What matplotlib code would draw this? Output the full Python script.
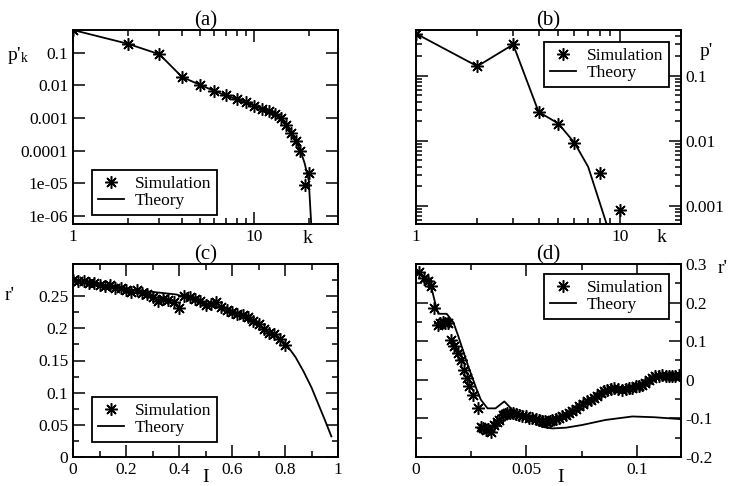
import numpy as np
import matplotlib.pyplot as plt
from matplotlib.ticker import LogLocator, MultipleLocator, NullFormatter

plt.rcParams['font.family'] = ['Liberation Serif', 'DejaVu Serif']
plt.rcParams['mathtext.fontset'] = 'stix'

# ---- data -------------------------------------------------------------
# (a) degree distribution
a_k = [1, 2, 3, 4, 5, 6, 7, 8, 9, 10, 11, 12, 13, 14, 15, 16, 17, 18, 19, 20]
a_sim = [0.5, 0.19, 0.09, 0.018, 0.0105, 0.0068, 0.0049, 0.0038, 0.003,
         0.0024, 0.0019, 0.0016, 0.0013, 0.001, 0.0006, 0.00035, 0.0002,
         0.0001, 9e-6, 2e-5]
a_th_k = [1, 2, 3, 4, 5, 6, 7, 8, 9, 10, 11, 12, 13, 14, 15, 16, 17, 18, 19, 20, 21]
a_th = [0.5, 0.19, 0.09, 0.018, 0.0105, 0.0068, 0.0049, 0.0038, 0.003,
        0.0024, 0.0019, 0.0016, 0.0013, 0.001, 0.0006, 0.00035, 0.0002,
        0.0001, 4e-5, 1.2e-5, 1e-7]

# (b)
b_k = [1, 2, 3, 4, 5, 6, 8, 10]
b_sim = [0.44, 0.139, 0.30, 0.0277, 0.0184, 0.0093, 0.0032, 0.00087]
b_th_k = [1, 2, 3, 4, 5, 6, 7, 8, 9, 10]
b_th = [0.44, 0.139, 0.30, 0.0277, 0.0184, 0.0093, 0.004, 0.0011, 0.00035, 0.0001]

# (c)
c_I = [0.0, 0.02, 0.04, 0.06, 0.08, 0.10, 0.12, 0.14, 0.16, 0.18, 0.20,
       0.22, 0.24, 0.26, 0.28, 0.30, 0.32, 0.34, 0.36, 0.38, 0.40, 0.42,
       0.44, 0.46, 0.48, 0.50, 0.52, 0.54, 0.56, 0.58, 0.60, 0.62, 0.64,
       0.66, 0.68, 0.70, 0.72, 0.74, 0.76, 0.78, 0.80]
c_sim = [0.275, 0.274, 0.273, 0.271, 0.270, 0.268, 0.266, 0.268, 0.262,
         0.263, 0.259, 0.257, 0.260, 0.255, 0.253, 0.248, 0.242, 0.246,
         0.244, 0.241, 0.231, 0.250, 0.248, 0.246, 0.243, 0.236, 0.238,
         0.241, 0.233, 0.229, 0.226, 0.222, 0.220, 0.218, 0.212, 0.207,
         0.199, 0.193, 0.191, 0.183, 0.174]
c_th_I = [0.0, 0.1, 0.226, 0.39, 0.541, 0.62, 0.704, 0.76, 0.805, 0.84,
          0.87, 0.90, 0.925, 0.95, 0.975]
c_th = [0.275, 0.268, 0.260, 0.2526, 0.234, 0.222, 0.203, 0.189, 0.175,
        0.155, 0.133, 0.108, 0.083, 0.058, 0.032]

# (d)
d_I = [0.0015, 0.0038, 0.0053, 0.0068, 0.0083, 0.0098, 0.0110, 0.0120,
       0.0132, 0.0143, 0.0158, 0.0173, 0.0188, 0.0203, 0.0218, 0.0230,
       0.0241, 0.0256, 0.0279, 0.0294, 0.0305, 0.0316, 0.0328, 0.0339,
       0.0354, 0.0365, 0.0377, 0.0392, 0.0403, 0.0414, 0.0426, 0.0437,
       0.0452, 0.0467, 0.0482, 0.0497, 0.0512, 0.0527, 0.0542, 0.0557,
       0.0572, 0.0585, 0.0595, 0.0606, 0.0617, 0.0632, 0.0648, 0.0663,
       0.0678, 0.0693, 0.0708, 0.0723, 0.0738, 0.0757, 0.0776, 0.0791,
       0.0806, 0.0821, 0.0836, 0.0851, 0.0866, 0.0881, 0.0896, 0.0915,
       0.0934, 0.0949, 0.0964, 0.0979, 0.0994, 0.1009, 0.1024, 0.1039,
       0.1054, 0.1069, 0.1084, 0.1099, 0.1114, 0.1130, 0.1145, 0.1160,
       0.1175, 0.1190]
d_sim = [0.278, 0.265, 0.256, 0.243, 0.187, 0.143, 0.148, 0.150,
         0.146, 0.148, 0.104, 0.087, 0.070, 0.052, 0.026, 0.005,
         -0.017, -0.039, -0.074, -0.122, -0.126, -0.130, -0.127, -0.135,
         -0.117, -0.110, -0.104, -0.091, -0.089, -0.087, -0.085, -0.087,
         -0.089, -0.091, -0.093, -0.095, -0.098, -0.100, -0.102, -0.104,
         -0.106, -0.108, -0.109, -0.107, -0.104, -0.102, -0.100, -0.095,
         -0.091, -0.087, -0.082, -0.076, -0.069, -0.062, -0.056, -0.052,
         -0.048, -0.041, -0.035, -0.030, -0.026, -0.024, -0.022, -0.024,
         -0.026, -0.024, -0.022, -0.020, -0.017, -0.015, -0.013, -0.007,
         0.000, 0.005, 0.009, 0.011, 0.013, 0.011, 0.009, 0.010,
         0.010, 0.013]
d_th_I = [0.0003, 0.0040, 0.0071, 0.0086, 0.0101, 0.0139, 0.0169, 0.0191,
          0.0236, 0.0274, 0.0294, 0.0324, 0.0360, 0.0400, 0.0437, 0.0497,
          0.0572, 0.0617, 0.0680, 0.0753, 0.0858, 0.0980, 0.1080, 0.1200]
d_th = [0.284, 0.262, 0.236, 0.201, 0.171, 0.171, 0.149, 0.114,
        0.036, -0.024, -0.052, -0.074, -0.074, -0.056, -0.078, -0.095,
        -0.122, -0.126, -0.124, -0.117, -0.104, -0.095, -0.097, -0.102]

# ---- figure -----------------------------------------------------------
W, H = 732, 486
fig = plt.figure(figsize=(W / 100, H / 100), dpi=100)


def px_axes(l, t, r, b):
    return fig.add_axes([l / W, 1 - b / H, (r - l) / W, (b - t) / H])


ax_a = px_axes(73, 30, 338, 224)
ax_b = px_axes(416, 30, 681, 224)
ax_c = px_axes(73, 264, 338, 457)
ax_d = px_axes(416, 264, 681, 457)

star = dict(marker=(8, 2, 0), markersize=9, markeredgewidth=1.1,
            color='black', linestyle='none', label='Simulation', zorder=2)
line = dict(color='black', linewidth=1.3, label='Theory', zorder=3)


def style(ax):
    for s in ax.spines.values():
        s.set_linewidth(1.4)
    ax.tick_params(which='both', direction='in', top=True, right=True,
                   labelsize=12.5, width=1.1)
    ax.tick_params(which='major', length=8.5)
    ax.tick_params(which='minor', length=4.5)


def legend(ax, left, top):
    # legend box placed by its top-left corner in figure pixels
    leg = ax.legend(loc='upper left', bbox_to_anchor=(left / W, 1 - top / H),
                    bbox_transform=fig.transFigure, borderaxespad=0,
                    fontsize=12.5, frameon=True, fancybox=False,
                    edgecolor='black', framealpha=1, handlelength=1.5,
                    borderpad=0.35, labelspacing=0.05, handletextpad=0.6)
    leg.get_frame().set_linewidth(1.3)


# (a)
ax = ax_a
ax.plot(a_k, a_sim, **star)
ax.plot(a_th_k, a_th, **line)
ax.set_xscale('log')
ax.set_yscale('log')
ax.set_xlim(1, 29)
ax.set_ylim(5.6e-7, 0.5)
ax.set_xticks([1, 10], ['1', '10'])
ax.xaxis.set_minor_locator(LogLocator(subs=np.arange(2, 10)))
ax.xaxis.set_minor_formatter(NullFormatter())
ax.set_yticks([1e-6, 1e-5, 1e-4, 1e-3, 1e-2, 1e-1],
              ['1e-06', '1e-05', '0.0001', '0.001', '0.01', '0.1'])
ax.yaxis.set_minor_locator(LogLocator(subs=np.arange(2, 10)))
ax.yaxis.set_minor_formatter(NullFormatter())
style(ax)
ax.set_title('(a)', fontsize=15, pad=2)
legend(ax, 92, 170)

# (b)
ax = ax_b
ax.plot(b_k, b_sim, **star)
ax.plot(b_th_k, b_th, **line)
ax.set_xscale('log')
ax.set_yscale('log')
ax.set_xlim(1, 20)
ax.set_ylim(5.3e-4, 0.5)
ax.set_xticks([1, 10], ['1', '10'])
ax.xaxis.set_minor_locator(LogLocator(subs=np.arange(2, 10)))
ax.xaxis.set_minor_formatter(NullFormatter())
ax.set_yticks([1e-3, 1e-2, 1e-1], ['0.001', '0.01', '0.1'])
ax.yaxis.set_minor_locator(LogLocator(subs=np.arange(2, 10)))
ax.yaxis.set_minor_formatter(NullFormatter())
style(ax)
ax.tick_params(labelleft=False, labelright=True)
ax.set_title('(b)', fontsize=15, pad=2)
legend(ax, 544, 42)

# (c)
ax = ax_c
ax.plot(c_I, c_sim, **star)
ax.plot(c_th_I, c_th, **line)
ax.set_xlim(0, 1)
ax.set_ylim(0, 0.3)
ax.set_xticks([0, 0.2, 0.4, 0.6, 0.8, 1], ['0', '0.2', '0.4', '0.6', '0.8', '1'])
ax.set_yticks([0, 0.05, 0.1, 0.15, 0.2, 0.25],
              ['0', '0.05', '0.1', '0.15', '0.2', '0.25'])
ax.xaxis.set_minor_locator(MultipleLocator(0.1))
ax.yaxis.set_minor_locator(MultipleLocator(0.025))
style(ax)
ax.set_title('(c)', fontsize=15, pad=2)
legend(ax, 92, 397)

# (d)
ax = ax_d
ax.plot(d_I, d_sim, **star)
ax.plot(d_th_I, d_th, **line)
ax.set_xlim(0, 0.12)
ax.set_ylim(-0.2, 0.3)
ax.set_xticks([0, 0.05, 0.1], ['0', '0.05', '0.1'])
ax.set_yticks([-0.2, -0.1, 0, 0.1, 0.2, 0.3],
              ['-0.2', '-0.1', '0', '0.1', '0.2', '0.3'])
ax.xaxis.set_minor_locator(MultipleLocator(0.025))
ax.yaxis.set_minor_locator(MultipleLocator(0.05))
style(ax)
ax.tick_params(labelleft=False, labelright=True)
ax.set_title('(d)', fontsize=15, pad=2)
legend(ax, 544, 274)


# axis labels placed like the original
def ftext(x, y, s, **kw):
    fig.text(x / W, 1 - y / H, s, fontsize=14, ha='center', va='center', **kw)


ftext(18, 55, r"p'$_{\mathregular{k}}$")
ftext(308, 238, 'k')
ftext(706, 52, "p'")
ftext(662, 237, 'k')
ftext(10, 296, "r'")
ftext(206, 477, 'I')
ftext(723, 268, "r'")
ftext(561, 477, 'I')

fig.savefig('out.png', dpi=100)
